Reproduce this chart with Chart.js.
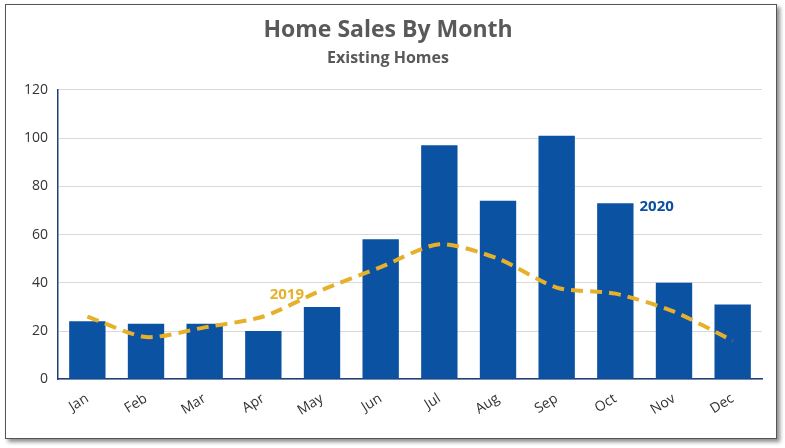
<!DOCTYPE html>
<html>
<head>
<meta charset="utf-8">
<script src="https://cdn.jsdelivr.net/npm/chart.js@4"></script>
<style>
  body { margin: 0; background: #fff; }
  #box { position: absolute; left: 5px; top: 4px; width: 770px; height: 433px; border: 1px solid #555; box-shadow: 3px 3px 4px rgba(0,0,0,0.45); background: #fff; }
</style>
</head>
<body>
<div id="box"><canvas id="salesChart" width="770" height="433"></canvas></div>
<script>
const months = ['Jan', 'Feb', 'Mar', 'Apr', 'May', 'Jun', 'Jul', 'Aug', 'Sep', 'Oct', 'Nov', 'Dec'];
const sales2020 = [24, 23, 23, 20, 30, 58, 97, 74, 101, 73, 40, 31];
const sales2019 = [26, 17.5, 21.5, 26, 37, 46.5, 56, 50, 38, 35.5, 28, 16];
const yTicks = [0, 20, 40, 60, 80, 100, 120];

// series names drawn next to the marks
const seriesLabels = {
    id: 'seriesLabels',
    afterDatasetsDraw(chart) {
        const ctx = chart.ctx;
        const x = chart.scales.x, y = chart.scales.y;
        ctx.save();
        ctx.font = 'bold 15px "Open Sans"';
        ctx.textBaseline = 'middle';
        ctx.fillStyle = '#E6B02A';
        ctx.textAlign = 'center';
        ctx.fillText('2019', x.getPixelForValue(3.4), y.getPixelForValue(35));
        ctx.fillStyle = '#0B4FA0';
        ctx.textAlign = 'left';
        const bar = chart.getDatasetMeta(1).data[9];
        ctx.fillText('2020', bar.x + bar.width / 2 + 6, y.getPixelForValue(71.5));
        ctx.restore();
    }
};

new Chart(document.getElementById('salesChart'), {
    data: {
        labels: months,
        datasets: [
            { type: 'line', label: '2019', data: sales2019, borderColor: '#E6B02A', borderWidth: 4, borderDash: [12, 7], pointRadius: 0, tension: 0.25, fill: false, order: 0 },
            { type: 'bar', label: '2020', data: sales2020, backgroundColor: '#0B52A3', categoryPercentage: 1, barPercentage: 0.62, order: 1 }
        ]
    },
    options: {
        responsive: false,
        animation: false,
        layout: { padding: { left: 8, right: 14, top: 10, bottom: 16 } },
        plugins: {
            legend: { display: false },
            title: { display: true, text: 'Home Sales By Month', color: '#595959', font: { family: 'Open Sans', size: 23, weight: 'bold' }, padding: { top: 2, bottom: 4 } },
            subtitle: { display: true, text: 'Existing Homes', color: '#595959', font: { family: 'Open Sans', size: 16, weight: 'bold' }, padding: { bottom: 22 } }
        },
        scales: {
            x: {
                grid: { display: false },
                border: { color: '#1F3E7A', width: 1.5 },
                ticks: { color: '#333', font: { family: 'Open Sans', size: 14 }, maxRotation: 32, minRotation: 32 }
            },
            y: {
                min: 0, max: 120,
                afterBuildTicks(axis) { axis.ticks = yTicks.map(v => ({ value: v })); },
                grid: { color: '#D9D9D9', drawTicks: false },
                border: { color: '#1F3E7A', width: 1.5 },
                ticks: { color: '#333', font: { family: 'Open Sans', size: 14 }, padding: 10 }
            }
        }
    },
    plugins: [seriesLabels]
});
</script>
</body>
</html>
